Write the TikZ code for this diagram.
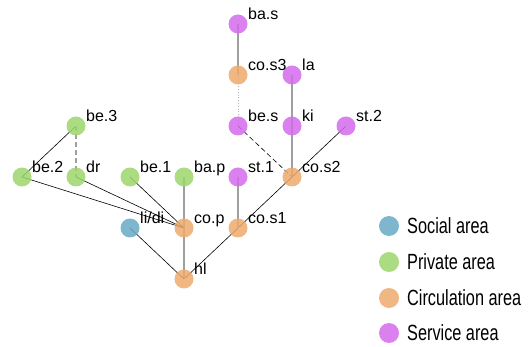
\documentclass[tikz,border=0pt]{standalone}
\usepackage{fontspec}
\setmainfont{Liberation Sans}
\newfontfamily\legendfont{Liberation Sans}[FakeStretch=0.74]
\usetikzlibrary{backgrounds}

\definecolor{socialc}{HTML}{67A9C5}
\definecolor{privatec}{HTML}{9CD66B}
\definecolor{circc}{HTML}{EDAA6C}
\definecolor{servicec}{HTML}{D46BEC}

\begin{document}
\begin{tikzpicture}[x=1pt, y=-1pt,
    room/.style={circle, minimum size=19pt, inner sep=0pt, fill opacity=0.85},
    social/.style={room, fill=socialc},
    private/.style={room, fill=privatec},
    circ/.style={room, fill=circc},
    service/.style={room, fill=servicec},
    lbl/.style={anchor=base west, inner sep=0pt, font=\fontsize{16}{16}\selectfont},
    link/.style={black, line width=0.6pt},
    vlink/.style={gray!75, line width=1.1pt},
    legtext/.style={anchor=west, inner sep=0pt, font=\legendfont\fontsize{22}{22}\selectfont}]

\useasboundingbox (0,0) rectangle (530,347);

% 1. Rooms
\node[service] (bas)  at (238,24)  {};
\node[circ]    (cos3) at (238,75)  {};
\node[service] (la)   at (292,75)  {};
\node[service] (bes)  at (238,126) {};
\node[service] (ki)   at (292,126) {};
\node[service] (st2)  at (346,126) {};
\node[private] (be3)  at (76,126)  {};
\node[private] (be2)  at (22,177)  {};
\node[private] (dr)   at (76,177)  {};
\node[private] (be1)  at (130,177) {};
\node[private] (bap)  at (184,177) {};
\node[service] (st1)  at (238,177) {};
\node[circ]    (cos2) at (292,177) {};
\node[social]  (lidi) at (130,228) {};
\node[circ]    (cop)  at (184,228) {};
\node[circ]    (cos1) at (238,228) {};
\node[circ]    (hl)   at (184,279) {};

% 2. Links (behind the rooms)
\begin{scope}[on background layer]
\draw[vlink] (bas.center) -- (cos3.center);
\draw[gray!60, line width=0.8pt, dotted] (cos3.center) -- (bes.center);
\draw[link, dash pattern=on 5pt off 3pt] (bes.center) -- (cos2.center);
\draw[vlink] (la.center) -- (ki.center);
\draw[vlink] (ki.center) -- (cos2.center);
\draw[link] (st2.center) -- (cos2.center);
\draw[link] (cos2.center) -- (cos1.center);
\draw[vlink] (st1.center) -- (cos1.center);
\draw[link] (cos1.center) -- (hl.center);
\draw[link] (be3.center) -- (be2.center);
\draw[vlink, dash pattern=on 5pt off 3pt] (be3.center) -- (dr.center);
\draw[link] (be2.center) -- (cop.center);
\draw[link] (dr.center) -- (cop.center);
\draw[link] (be1.center) -- (cop.center);
\draw[vlink] (bap.center) -- (cop.center);
\draw[vlink] (cop.center) -- (hl.center);
\draw[link] (lidi.center) -- (hl.center);
\end{scope}

% 3. Room labels
\node[lbl] (tbas)  at ([shift={(10,-4.5)}]bas.center)  {ba.s};
\node[lbl] (tcos3) at ([shift={(10,-4.5)}]cos3.center) {co.s3};
\node[lbl] (tla)   at ([shift={(10,-4.5)}]la.center)   {la};
\node[lbl] (tbes)  at ([shift={(10,-4.5)}]bes.center)  {be.s};
\node[lbl] (tki)   at ([shift={(10,-4.5)}]ki.center)   {ki};
\node[lbl] (tst2)  at ([shift={(10,-4.5)}]st2.center)  {st.2};
\node[lbl] (tbe3)  at ([shift={(10,-4.5)}]be3.center)  {be.3};
\node[lbl] (tbe2)  at ([shift={(10,-4.5)}]be2.center)  {be.2};
\node[lbl] (tdr)   at ([shift={(10,-4.5)}]dr.center)   {dr};
\node[lbl] (tbe1)  at ([shift={(10,-4.5)}]be1.center)  {be.1};
\node[lbl] (tbap)  at ([shift={(10,-4.5)}]bap.center)  {ba.p};
\node[lbl] (tst1)  at ([shift={(10,-4.5)}]st1.center)  {st.1};
\node[lbl] (tcos2) at ([shift={(10,-4.5)}]cos2.center) {co.s2};
\node[lbl] (tlidi) at ([shift={(10,-4.5)}]lidi.center) {li/di};
\node[lbl] (tcop)  at ([shift={(10,-4.5)}]cop.center)  {co.p};
\node[lbl] (tcos1) at ([shift={(10,-4.5)}]cos1.center) {co.s1};
\node[lbl] (thl)   at ([shift={(10,-4.5)}]hl.center)   {hl};

% 4. Legend
\node[social, minimum size=20pt]  (kso) at (389,226) {};
\node[private, minimum size=20pt] (kpr) at (389,262) {};
\node[circ, minimum size=20pt]    (kci) at (389,298) {};
\node[service, minimum size=20pt] (kse) at (389,333) {};
\node[legtext] at (407,226) {Social area};
\node[legtext] at (407,262) {Private area};
\node[legtext] at (407,298) {Circulation area};
\node[legtext] at (407,333) {Service area};

\end{tikzpicture}
\end{document}
